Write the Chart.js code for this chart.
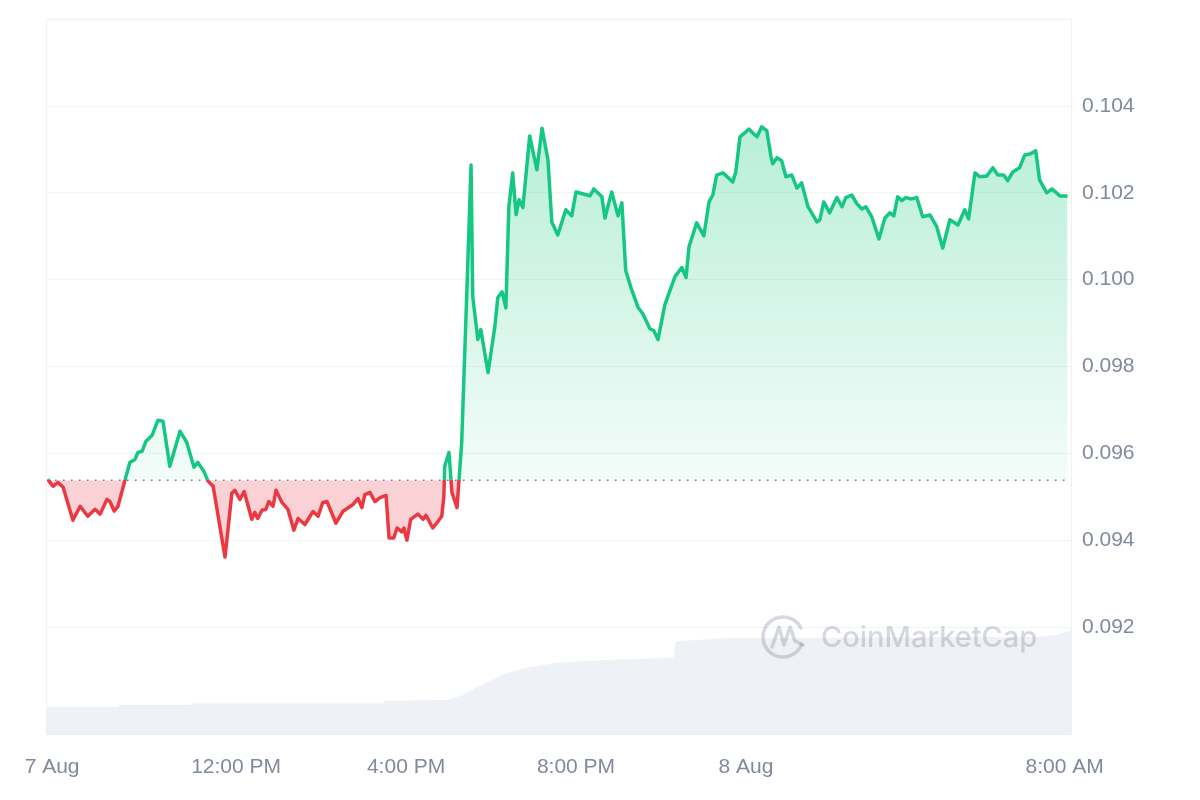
<!DOCTYPE html>
<html>
<head>
<meta charset="utf-8">
<title>Price chart</title>
<script src="https://cdn.jsdelivr.net/npm/chart.js@4.4.1/dist/chart.umd.min.js"></script>
<style>
    html, body { margin: 0; padding: 0; background: #ffffff; }
    #wrap { width: 1200px; height: 800px; position: relative; }
</style>
</head>
<body>
<div id="wrap"><canvas id="priceChart"></canvas></div>
<script>
// Hours since 7 Aug ~7:30 AM
const priceTimes = [
    0.02, 0.14, 0.26, 0.38, 0.61, 0.78, 0.96, 1.13, 1.25, 1.41, 1.48, 1.58, 1.67, 1.84, 1.95,
    2.07, 2.14, 2.24, 2.33, 2.47, 2.61, 2.73, 2.89, 3.13, 3.29, 3.46, 3.55, 3.69, 3.79, 3.91,
    4.19, 4.35, 4.42, 4.54, 4.64, 4.82, 4.89, 4.96, 5.06, 5.15, 5.22, 5.32, 5.39, 5.53, 5.67,
    5.81, 5.91, 6.07, 6.26, 6.38, 6.49, 6.59, 6.80, 6.96, 7.20, 7.32, 7.41, 7.48, 7.60, 7.72,
    7.84, 7.98, 8.05, 8.16, 8.24, 8.35, 8.40, 8.47, 8.56, 8.73, 8.85, 8.92, 9.08, 9.20, 9.29,
    9.34, 9.36, 9.46, 9.53, 9.65, 9.76, 9.88, 9.98, 10.02, 10.14, 10.21, 10.38, 10.54, 10.61, 10.71,
    10.80, 10.87, 10.96, 11.04, 11.11, 11.20, 11.36, 11.53, 11.65, 11.79, 11.88, 12.02, 12.21, 12.35, 12.45,
    12.71, 12.78, 12.87, 13.06, 13.13, 13.29, 13.44, 13.53, 13.62, 13.76, 13.91, 14.02, 14.19, 14.28, 14.38,
    14.54, 14.78, 14.94, 15.04, 15.11, 15.29, 15.46, 15.58, 15.67, 15.76, 15.91, 16.14, 16.21, 16.31, 16.42,
    16.52, 16.61, 16.71, 16.82, 16.94, 17.04, 17.08, 17.18, 17.29, 17.39, 17.53, 17.65, 17.76, 17.91, 18.12,
    18.19, 18.28, 18.42, 18.59, 18.71, 18.80, 18.94, 19.06, 19.18, 19.27, 19.41, 19.58, 19.72, 19.84, 19.93,
    20.02, 20.12, 20.21, 20.35, 20.47, 20.61, 20.78, 20.94, 21.08, 21.25, 21.44, 21.60, 21.69, 21.84, 21.95,
    22.12, 22.26, 22.38, 22.52, 22.61, 22.73, 22.89, 23.01, 23.15, 23.27, 23.36, 23.53, 23.65, 23.84, 24.02
];
const prices = [
    0.09540, 0.09524, 0.09533, 0.09522, 0.09446, 0.09478, 0.09455, 0.09471, 0.09460, 0.09494, 0.09489, 0.09467, 0.09478, 0.09540, 0.09579,
    0.09586, 0.09602, 0.09605, 0.09628, 0.09641, 0.09676, 0.09674, 0.09570, 0.09651, 0.09625, 0.09568, 0.09579, 0.09559, 0.09536, 0.09524,
    0.09361, 0.09508, 0.09515, 0.09494, 0.09512, 0.09448, 0.09464, 0.09450, 0.09469, 0.09471, 0.09489, 0.09478, 0.09515, 0.09487, 0.09471,
    0.09423, 0.09450, 0.09436, 0.09466, 0.09455, 0.09487, 0.09489, 0.09439, 0.09466, 0.09482, 0.09496, 0.09475, 0.09505, 0.09510, 0.09489,
    0.09498, 0.09503, 0.09405, 0.09405, 0.09428, 0.09419, 0.09428, 0.09400, 0.09448, 0.09460, 0.09448, 0.09457, 0.09428, 0.09443, 0.09455,
    0.09501, 0.09570, 0.09602, 0.09510, 0.09475, 0.09625, 0.09970, 0.10264, 0.09961, 0.09862, 0.09885, 0.09786, 0.09892, 0.09959, 0.09972,
    0.09935, 0.10168, 0.10246, 0.10150, 0.10184, 0.10166, 0.10331, 0.10253, 0.10349, 0.10276, 0.10133, 0.10103, 0.10161, 0.10147, 0.10202,
    0.10195, 0.10193, 0.10209, 0.10191, 0.10142, 0.10202, 0.10147, 0.10177, 0.10021, 0.09977, 0.09936, 0.09922, 0.09887, 0.09883, 0.09862,
    0.09942, 0.10007, 0.10028, 0.10005, 0.10076, 0.10131, 0.10101, 0.10179, 0.10195, 0.10241, 0.10246, 0.10225, 0.10248, 0.10329, 0.10338,
    0.10347, 0.10338, 0.10329, 0.10352, 0.10343, 0.10283, 0.10267, 0.10281, 0.10274, 0.10237, 0.10241, 0.10211, 0.10223, 0.10168, 0.10133,
    0.10138, 0.10179, 0.10154, 0.10189, 0.10168, 0.10189, 0.10195, 0.10175, 0.10163, 0.10168, 0.10145, 0.10094, 0.10142, 0.10154, 0.10147,
    0.10191, 0.10182, 0.10189, 0.10186, 0.10189, 0.10145, 0.10149, 0.10122, 0.10073, 0.10138, 0.10126, 0.10161, 0.10140, 0.10246, 0.10237,
    0.10239, 0.10258, 0.10241, 0.10241, 0.10228, 0.10248, 0.10258, 0.10287, 0.10290, 0.10297, 0.10230, 0.10200, 0.10209, 0.10193, 0.10193
];

// Opening price (dotted reference line)
const basePrice = 0.09538;

// Volume (arbitrary units, drawn on a hidden axis)
const volumeTimes = [0, 1.68, 1.70, 3.38, 3.40, 7.90, 7.95, 9.40, 9.80, 10.10, 10.40, 10.80, 11.20, 12.00, 13.30, 14.70, 14.75, 14.80, 16.00, 20.00, 23.30, 23.80, 24.10];
const volumes = [3.9, 3.9, 4.2, 4.2, 4.4, 4.4, 4.8, 4.9, 5.6, 6.6, 7.5, 8.6, 9.3, 10.1, 10.5, 10.8, 10.9, 13.1, 13.5, 13.6, 13.7, 14.0, 14.6];

// Axis ticks
const xTickHours = [0.12, 4.45, 8.45, 12.45, 16.45, 23.95];
const xTickLabels = ['7 Aug', '12:00 PM', '4:00 PM', '8:00 PM', '8 Aug', '8:00 AM'];
const yTickValues = [0.092, 0.094, 0.096, 0.098, 0.100, 0.102, 0.104];

const GREEN = '#16c784';
const RED = '#ea3943';
const GREY = '#808a9d';

// Line colour: green above the opening price, red below
function lineGradient(context) {
    const chart = context.chart;
    const area = chart.chartArea;
    if (!area || !chart.scales.y) return GREEN;
    const by = chart.scales.y.getPixelForValue(basePrice);
    const f = Math.min(Math.max((by - area.top) / (area.bottom - area.top), 0), 1);
    const g = chart.ctx.createLinearGradient(0, area.top, 0, area.bottom);
    g.addColorStop(0, GREEN);
    g.addColorStop(f, GREEN);
    g.addColorStop(f, RED);
    g.addColorStop(1, RED);
    return g;
}

// Green fill fading toward the opening price
function fillGradient(context) {
    const chart = context.chart;
    const area = chart.chartArea;
    if (!area || !chart.scales.y) return 'rgba(22, 199, 132, 0.2)';
    const top = chart.scales.y.getPixelForValue(0.1035);
    const by = chart.scales.y.getPixelForValue(basePrice);
    const g = chart.ctx.createLinearGradient(0, top, 0, by);
    g.addColorStop(0, 'rgba(22, 199, 132, 0.30)');
    g.addColorStop(1, 'rgba(22, 199, 132, 0.05)');
    return g;
}

// Frame lines and watermark
const framePlugin = {
    id: 'frame',
    beforeDraw(chart) {
        const { ctx, chartArea: a } = chart;
        ctx.save();
        ctx.strokeStyle = '#eef0f3';
        ctx.lineWidth = 1;
        ctx.beginPath();
        ctx.moveTo(a.left - 0.5, a.bottom);
        ctx.lineTo(a.left - 0.5, a.top + 0.5);
        ctx.lineTo(a.right, a.top + 0.5);
        ctx.stroke();
        ctx.restore();
    },
    afterDatasetsDraw(chart) {
        const { ctx, chartArea: a } = chart;
        const cx = a.left + 736;
        const cy = a.bottom - 98;
        ctx.save();
        ctx.strokeStyle = 'rgba(128, 138, 157, 0.33)';
        ctx.fillStyle = 'rgba(128, 138, 157, 0.33)';
        ctx.lineWidth = 3.5;
        ctx.lineCap = 'round';
        ctx.lineJoin = 'round';
        // logo ring
        ctx.beginPath();
        ctx.arc(cx, cy, 20, 0.12 * Math.PI, 1.85 * Math.PI);
        ctx.stroke();
        // logo wave
        ctx.beginPath();
        ctx.moveTo(cx - 11, cy + 10);
        ctx.lineTo(cx - 4, cy - 10);
        ctx.lineTo(cx + 1, cy + 8);
        ctx.lineTo(cx + 7, cy - 10);
        ctx.lineTo(cx + 12, cy + 4);
        ctx.lineTo(cx + 20, cy + 8);
        ctx.stroke();
        ctx.font = '500 29px Inter, "Noto Sans", sans-serif';
        ctx.textBaseline = 'middle';
        ctx.fillText('CoinMarketCap', cx + 38, cy + 1);
        ctx.restore();
    }
};

function initChart() {
    const ctx = document.getElementById('priceChart').getContext('2d');
    new Chart(ctx, {
        type: 'line',
        data: {
            datasets: [
                {
                    label: 'Price',
                    data: priceTimes.map((t, i) => ({ x: t, y: prices[i] })),
                    borderColor: lineGradient,
                    backgroundColor: fillGradient,
                    borderWidth: 3.5,
                    borderJoinStyle: 'round',
                    pointRadius: 0,
                    tension: 0,
                    fill: { target: { value: basePrice }, below: 'rgba(234, 57, 67, 0.23)' },
                    yAxisID: 'y'
                },
                {
                    label: 'Open',
                    data: [{ x: 0, y: basePrice }, { x: 24.1, y: basePrice }],
                    borderColor: '#747c8e',
                    borderWidth: 1.5,
                    borderDash: [1.5, 6.5],
                    pointRadius: 0,
                    fill: false,
                    yAxisID: 'y'
                },
                {
                    label: 'Volume',
                    data: volumeTimes.map((t, i) => ({ x: t, y: volumes[i] })),
                    borderWidth: 0,
                    borderColor: 'rgba(0,0,0,0)',
                    backgroundColor: '#eef1f5',
                    pointRadius: 0,
                    tension: 0,
                    fill: 'start',
                    yAxisID: 'yv'
                }
            ]
        },
        options: {
            responsive: true,
            maintainAspectRatio: false,
            animation: false,
            layout: { padding: { left: 47, top: 19, right: 0, bottom: 0 } },
            plugins: {
                legend: { display: false },
                tooltip: { enabled: false },
                filler: { drawTime: 'beforeDatasetsDraw', propagate: false }
            },
            scales: {
                x: {
                    type: 'linear',
                    min: 0,
                    max: 24.1,
                    grid: { display: false, drawTicks: false },
                    border: { display: false },
                    afterBuildTicks: scale => { scale.ticks = xTickHours.map(v => ({ value: v })); },
                    afterFit: scale => {
                        scale.height = 65;
                        scale.paddingLeft = 0;
                        scale.paddingRight = 0;
                    },
                    ticks: {
                        autoSkip: false,
                        maxRotation: 0,
                        padding: 20,
                        color: GREY,
                        font: { family: '"Liberation Sans", Arial, sans-serif', size: 21 },
                        callback: (value, index) => xTickLabels[index]
                    }
                },
                y: {
                    position: 'right',
                    min: 0.0895125,
                    max: 0.106004,
                    grid: { color: '#f2f3f5', drawTicks: false },
                    border: { display: true, color: '#eef0f3' },
                    afterBuildTicks: scale => { scale.ticks = yTickValues.map(v => ({ value: v })); },
                    afterFit: scale => {
                        scale.width = 129;
                        scale.paddingTop = 0;
                        scale.paddingBottom = 0;
                    },
                    ticks: {
                        padding: 11,
                        color: GREY,
                        font: { family: '"Liberation Sans", Arial, sans-serif', size: 21 },
                        callback: value => value.toFixed(3)
                    }
                },
                yv: {
                    display: false,
                    min: 0,
                    max: 100
                }
            }
        },
        plugins: [framePlugin]
    });
}

document.addEventListener('DOMContentLoaded', initChart);
</script>
</body>
</html>
